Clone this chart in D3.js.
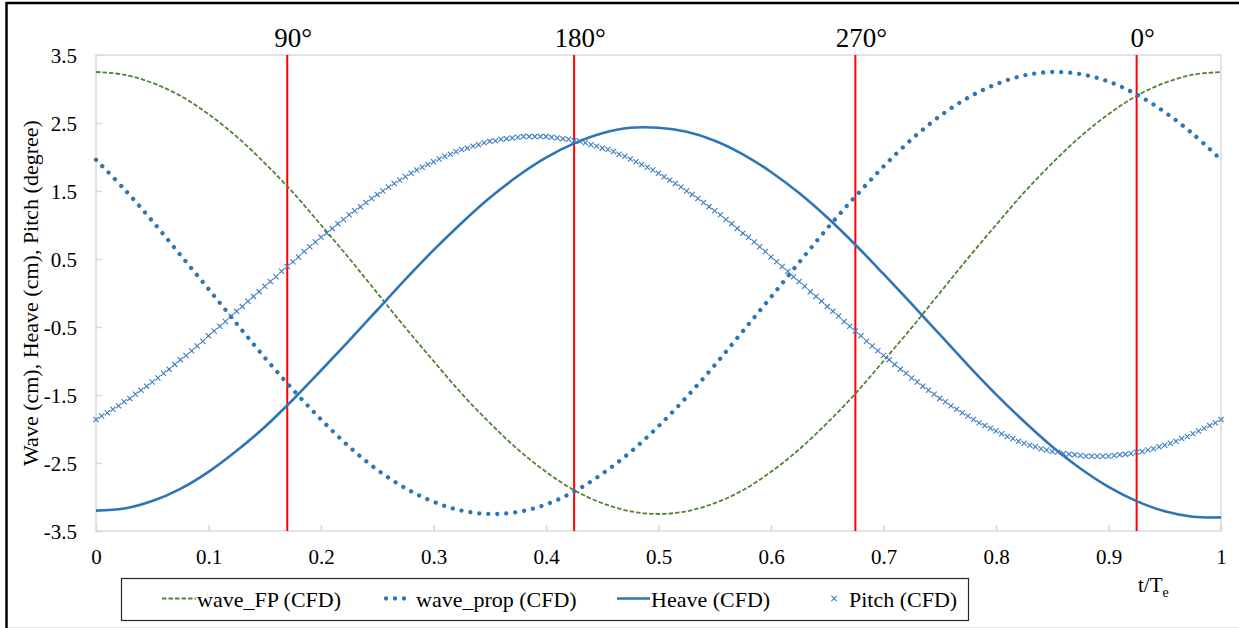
<!DOCTYPE html>
<html>
<head>
<meta charset="utf-8">
<script src="https://cdn.jsdelivr.net/npm/d3@7"></script>
<style>
  html, body { margin: 0; padding: 0; background: #ffffff; }
  svg { display: block; }
  svg text { font-family: "Liberation Serif", "Times New Roman", "DejaVu Serif", serif; }
</style>
</head>
<body>
<svg id="chart" width="1239" height="628"></svg>
<script>
// ---- data -------------------------------------------------------------
// smooth curves are sampled every 0.025 t/Te, pitch every 0.005 t/Te
const curveStep = 0.025;
const pitchStep = 0.005;

const waveFP = [3.25, 3.21, 3.09, 2.90, 2.63, 2.30, 1.91, 1.48, 1.00, 0.51, 0.00,
  -0.51, -1.00, -1.48, -1.91, -2.30, -2.63, -2.90, -3.09, -3.21, -3.25,
  -3.21, -3.09, -2.90, -2.63, -2.30, -1.91, -1.48, -1.00, -0.51, 0.00,
  0.51, 1.00, 1.48, 1.91, 2.30, 2.63, 2.90, 3.09, 3.21, 3.25];

const waveProp = [1.96, 1.53, 1.06, 0.56, 0.06, -0.45, -0.95, -1.42, -1.86, -2.26, -2.60,
  -2.87, -3.07, -3.20, -3.25, -3.22, -3.11, -2.92, -2.66, -2.34, -1.96,
  -1.53, -1.06, -0.56, -0.06, 0.45, 0.95, 1.42, 1.86, 2.26, 2.60,
  2.87, 3.07, 3.20, 3.25, 3.22, 3.11, 2.92, 2.66, 2.34, 1.96];

const heave = [-3.20, -3.17, -3.06, -2.88, -2.63, -2.32, -1.97, -1.57, -1.14, -0.70, -0.25,
  0.20, 0.63, 1.03, 1.40, 1.72, 1.99, 2.20, 2.35, 2.43, 2.43,
  2.37, 2.24, 2.04, 1.78, 1.47, 1.11, 0.71, 0.28, -0.16, -0.61,
  -1.06, -1.49, -1.89, -2.26, -2.58, -2.85, -3.06, -3.21, -3.29, -3.30];

const pitch = [
  -1.86, -1.81, -1.76, -1.71, -1.66, -1.60, -1.55, -1.49, -1.43, -1.37,
  -1.31, -1.25, -1.18, -1.12, -1.05, -0.98, -0.92, -0.85, -0.78, -0.71,
  -0.63, -0.56, -0.49, -0.42, -0.34, -0.27, -0.20, -0.12, -0.05, 0.02,
  0.10, 0.17, 0.24, 0.32, 0.39, 0.46, 0.53, 0.61, 0.68, 0.75,
  0.82, 0.88, 0.95, 1.02, 1.08, 1.15, 1.21, 1.27, 1.33, 1.39,
  1.45, 1.50, 1.56, 1.61, 1.66, 1.71, 1.76, 1.81, 1.85, 1.89,
  1.93, 1.97, 2.01, 2.04, 2.08, 2.11, 2.13, 2.16, 2.18, 2.21,
  2.23, 2.24, 2.26, 2.27, 2.28, 2.29, 2.30, 2.30, 2.30,
  2.30, 2.30, 2.29, 2.28, 2.27, 2.26, 2.24, 2.23, 2.21, 2.18,
  2.16, 2.13, 2.11, 2.08, 2.04, 2.01, 1.97, 1.93, 1.89, 1.85,
  1.81, 1.76, 1.71, 1.66, 1.61, 1.56, 1.50, 1.45, 1.39, 1.33,
  1.27, 1.21, 1.15, 1.08, 1.02, 0.95, 0.88, 0.82, 0.75, 0.68,
  0.61, 0.53, 0.46, 0.39, 0.32, 0.24, 0.17, 0.10, 0.02, -0.05,
  -0.12, -0.20, -0.27, -0.34, -0.42, -0.49, -0.56, -0.63, -0.71, -0.78,
  -0.85, -0.92, -0.98, -1.05, -1.12, -1.18, -1.25, -1.31, -1.37, -1.43,
  -1.49, -1.55, -1.60, -1.66, -1.71, -1.76, -1.81, -1.86, -1.91, -1.95,
  -1.99, -2.03, -2.07, -2.11, -2.14, -2.18, -2.21, -2.24, -2.26, -2.29,
  -2.31, -2.33, -2.34, -2.36, -2.37, -2.38, -2.39, -2.40, -2.40, -2.40,
  -2.40, -2.40, -2.39, -2.38, -2.37, -2.36, -2.34, -2.33, -2.31, -2.29,
  -2.26, -2.24, -2.21, -2.18, -2.14, -2.11, -2.07, -2.03, -1.99, -1.95,
  -1.91, -1.86];

// phase markers (vertical red lines)
const phaseTimes = [0.17, 0.425, 0.675, 0.925];
const phaseLabels = ["90°", "180°", "270°", "0°"];

// axis ticks
const xTickValues = [0, 0.1, 0.2, 0.3, 0.4, 0.5, 0.6, 0.7, 0.8, 0.9, 1];
const xTickLabels = ["0", "0.1", "0.2", "0.3", "0.4", "0.5", "0.6", "0.7", "0.8", "0.9", "1"];
const yTickValues = [-3.5, -2.5, -1.5, -0.5, 0.5, 1.5, 2.5, 3.5];
const yTickLabels = ["-3.5", "-2.5", "-1.5", "-0.5", "0.5", "1.5", "2.5", "3.5"];

const seriesNames = ["wave_FP (CFD)", "wave_prop (CFD)", "Heave (CFD)", "Pitch (CFD)"];

// ---- layout -----------------------------------------------------------
const plot = { left: 96, right: 1221, top: 55, bottom: 531 };
const blue = "#2E75B6", green = "#548235", red = "#FF0000", gridGray = "#D9D9D9";
const serif = "'Liberation Serif', 'Times New Roman', 'DejaVu Serif', serif";

const svg = d3.select("#chart");
const x = d3.scaleLinear().domain([0, 1]).range([plot.left, plot.right]);
const y = d3.scaleLinear().domain([-3.5, 3.5]).range([plot.bottom, plot.top]);

// outer frame
svg.append("line").attr("x1", 6).attr("x2", 1239).attr("y1", 3).attr("y2", 3)
  .attr("stroke", "#000").attr("stroke-width", 2.5);
svg.append("line").attr("x1", 6.5).attr("x2", 6.5).attr("y1", 2).attr("y2", 628)
  .attr("stroke", "#000").attr("stroke-width", 2.5);
svg.append("line").attr("x1", 8).attr("x2", 1239).attr("y1", 627.5).attr("y2", 627.5)
  .attr("stroke", "#E6E6E6").attr("stroke-width", 1);

// plot area border
svg.append("rect")
  .attr("x", plot.left).attr("y", plot.top)
  .attr("width", plot.right - plot.left).attr("height", plot.bottom - plot.top)
  .attr("fill", "none").attr("stroke", gridGray).attr("stroke-width", 1.5);

// x axis
const xAxis = svg.append("g")
  .attr("transform", `translate(0,${plot.bottom})`)
  .call(d3.axisBottom(x).tickValues(xTickValues)
    .tickFormat((d, i) => xTickLabels[i])
    .tickSizeInner(-6).tickSizeOuter(0).tickPadding(18));
xAxis.attr("font-family", serif);
xAxis.select(".domain").remove();
xAxis.selectAll(".tick line").attr("stroke", gridGray).attr("stroke-width", 1.5);
xAxis.selectAll(".tick text").attr("font-size", 21).attr("fill", "#000");

// y axis
const yAxis = svg.append("g")
  .attr("transform", `translate(${plot.left},0)`)
  .call(d3.axisLeft(y).tickValues(yTickValues)
    .tickFormat((d, i) => yTickLabels[i])
    .tickSizeInner(-6).tickSizeOuter(0).tickPadding(19));
yAxis.attr("font-family", serif);
yAxis.select(".domain").remove();
yAxis.selectAll(".tick line").attr("stroke", gridGray).attr("stroke-width", 1.5);
yAxis.selectAll(".tick text").attr("font-size", 21).attr("fill", "#000").attr("dy", "0.36em");

// y axis title
svg.append("text")
  .attr("transform", `translate(38,${(plot.top + plot.bottom) / 2}) rotate(-90)`)
  .attr("text-anchor", "middle")
  .attr("font-size", 22).attr("fill", "#000")
  .text("Wave (cm), Heave (cm), Pitch (degree)");

// x axis title t/Te
const xt = svg.append("text").attr("x", 1138).attr("y", 592)
  .attr("font-size", 21).attr("fill", "#000");
xt.append("tspan").text("t/T");
xt.append("tspan").attr("font-size", 14).attr("dy", 5).text("e");

// phase lines and labels
svg.append("g").selectAll("line").data(phaseTimes).join("line")
  .attr("x1", d => x(d)).attr("x2", d => x(d))
  .attr("y1", plot.top).attr("y2", plot.bottom)
  .attr("stroke", red).attr("stroke-width", 2);
svg.append("g").selectAll("text").data(phaseTimes).join("text")
  .attr("x", d => x(d) + 6).attr("y", 47)
  .attr("text-anchor", "middle")
  .attr("font-size", 27).attr("fill", "#000")
  .text((d, i) => phaseLabels[i]);

// ---- series -------------------------------------------------------------
const line = d3.line()
  .x((d, i) => x(i * curveStep))
  .y(d => y(d))
  .curve(d3.curveCatmullRom.alpha(0.5));

const series = svg.append("g");

series.append("path").datum(waveFP)
  .attr("d", line).attr("fill", "none")
  .attr("stroke", green).attr("stroke-width", 1.8)
  .attr("stroke-dasharray", "4.5,2");

series.append("path").datum(waveProp)
  .attr("d", line).attr("fill", "none")
  .attr("stroke", blue).attr("stroke-width", 4.3)
  .attr("stroke-linecap", "round")
  .attr("stroke-dasharray", "0.01,9");

series.append("path").datum(heave)
  .attr("d", line).attr("fill", "none")
  .attr("stroke", blue).attr("stroke-width", 2.6);

const crossPath = "M-2.6,-2.6L2.6,2.6M-2.6,2.6L2.6,-2.6";
series.append("g").selectAll("path").data(pitch).join("path")
  .attr("transform", (d, i) => `translate(${x(i * pitchStep)},${y(d)})`)
  .attr("d", crossPath)
  .attr("fill", "none").attr("stroke", "#3A7CC0").attr("stroke-width", 1.1);

// ---- legend -----------------------------------------------------------
const legend = svg.append("g");
legend.append("rect")
  .attr("x", 121.5).attr("y", 578.5).attr("width", 847).attr("height", 42)
  .attr("fill", "#fff").attr("stroke", "#262626").attr("stroke-width", 1.2);

const legendY = 598.5, legendTextY = 607;
legend.append("line").attr("x1", 162).attr("x2", 196).attr("y1", legendY).attr("y2", legendY)
  .attr("stroke", green).attr("stroke-width", 1.8).attr("stroke-dasharray", "4.5,2");
legend.append("line").attr("x1", 386).attr("x2", 413).attr("y1", legendY).attr("y2", legendY)
  .attr("stroke", blue).attr("stroke-width", 4.3).attr("stroke-linecap", "round")
  .attr("stroke-dasharray", "0.01,9");
legend.append("line").attr("x1", 617).attr("x2", 650).attr("y1", legendY).attr("y2", legendY)
  .attr("stroke", blue).attr("stroke-width", 2.6);
legend.append("path").attr("transform", `translate(834,${legendY})`).attr("d", crossPath)
  .attr("fill", "none").attr("stroke", "#3A7CC0").attr("stroke-width", 1.1);

const legendTextX = [197, 416, 651, 849];
legend.selectAll("text.lg").data(seriesNames).join("text")
  .attr("class", "lg")
  .attr("x", (d, i) => legendTextX[i]).attr("y", legendTextY)
  .attr("font-size", 22).attr("fill", "#000")
  .text(d => d);
</script>
</body>
</html>
